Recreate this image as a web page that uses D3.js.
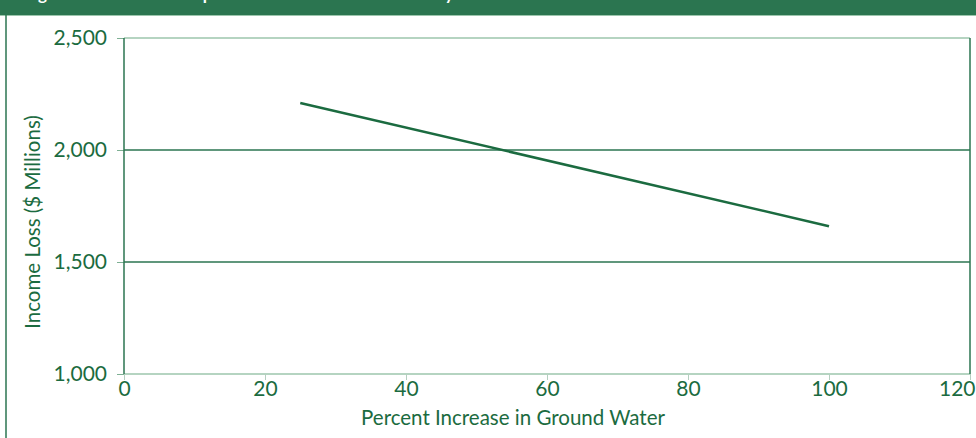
<!DOCTYPE html>
<html>
<head>
<meta charset="utf-8">
<script src="https://cdn.jsdelivr.net/npm/d3@7"></script>
<style>
  body { margin: 0; background: #fff; }
  text { font-family: Lato, "Open Sans", sans-serif; }
</style>
</head>
<body>
<div id="chart"></div>
<script>
// data
var groundWater = [25, 100]; // percent increase
var incomeLoss = [2210, 1660]; // $ millions
var xTicks = [0, 20, 40, 60, 80, 100, 120];
var yTicks = [1000, 1500, 2000, 2500];
var titleText = "Figure 12. Estimated Impact of Ground Water Availability";

var width = 976, height = 438;
var green = "#2b7550", dark = "#1b6b40", light = "#9cc6ad";
var plot = { left: 124, right: 970, top: 38, bottom: 374 };

var svg = d3.select("#chart").append("svg")
    .attr("width", width)
    .attr("height", height);

// header band and frame
svg.append("rect").attr("x", 0).attr("y", 0).attr("width", width).attr("height", 15).attr("fill", green);
svg.append("line").attr("x1", 0).attr("x2", width).attr("y1", 15.5).attr("y2", 15.5)
    .style("stroke", light).style("stroke-width", 1);
svg.append("text").attr("x", 24).attr("y", -0.5).text(titleText)
    .style("fill", "#fff").style("font-size", "17px").style("font-weight", "bold");
svg.append("line").attr("x1", 6).attr("x2", 6).attr("y1", 15).attr("y2", height)
    .style("stroke", green).style("stroke-width", 1.5);

var x = d3.scaleLinear().domain([0, 120]).range([plot.left, plot.right]);
var y = d3.scaleLinear().domain([1000, 2500]).range([plot.bottom, plot.top]);

// gridlines
svg.selectAll(".grid").data(yTicks).enter().append("line")
    .attr("x1", plot.left).attr("x2", plot.right)
    .attr("y1", function (d) { return y(d); })
    .attr("y2", function (d) { return y(d); })
    .style("stroke", function (d) { return (d == 1500 || d == 2000) ? green : light; })
    .style("stroke-width", 1.5);

// axes
var xAxis = svg.append("g").attr("transform", "translate(0," + plot.bottom + ")")
    .call(d3.axisBottom(x).tickValues(xTicks).tickSize(6).tickPadding(1));
var yAxis = svg.append("g").attr("transform", "translate(" + plot.left + ",0)")
    .call(d3.axisLeft(y).tickValues(yTicks).tickSize(7).tickPadding(10).tickFormat(d3.format(",")));
xAxis.select(".domain").remove();
yAxis.select(".domain").remove();
xAxis.selectAll("line").style("stroke", "#b5cfc0");
yAxis.selectAll("line").style("stroke", "#7fb094");
svg.selectAll(".tick text").style("fill", dark).style("font-size", "21px");
// last label would run off the page edge
xAxis.selectAll(".tick text").filter(function (d) { return d == 120; })
    .attr("text-anchor", "end").attr("x", width - plot.right - 1);

// plot borders
svg.append("line").attr("x1", plot.left).attr("x2", plot.left).attr("y1", plot.top).attr("y2", plot.bottom)
    .style("stroke", green).style("stroke-width", 1.5);
svg.append("line").attr("x1", plot.right).attr("x2", plot.right).attr("y1", plot.top).attr("y2", plot.bottom)
    .style("stroke", green).style("stroke-width", 1.5);

// axis titles
svg.append("text").attr("x", 513).attr("y", 425)
    .attr("text-anchor", "middle").text("Percent Increase in Ground Water")
    .style("fill", dark).style("font-size", "20.5px");
svg.append("text").attr("transform", "translate(40,222) rotate(-90)")
    .attr("text-anchor", "middle").text("Income Loss ($ Millions)")
    .style("fill", dark).style("font-size", "20.5px");

// series
var line = d3.line()
    .x(function (d) { return x(d[0]); })
    .y(function (d) { return y(d[1]); });
svg.append("path")
    .datum(d3.zip(groundWater, incomeLoss))
    .attr("d", line)
    .style("fill", "none")
    .style("stroke", dark)
    .style("stroke-width", 2.5);
</script>
</body>
</html>
